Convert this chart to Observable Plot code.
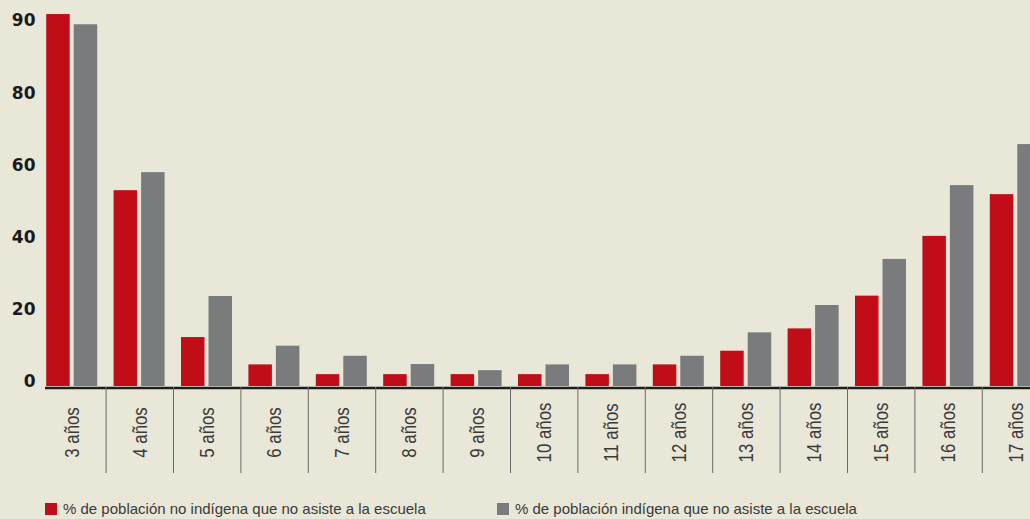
<!DOCTYPE html>
<html>
<head>
<meta charset="utf-8">
<script src="https://cdn.jsdelivr.net/npm/d3@7"></script>
<script src="https://cdn.jsdelivr.net/npm/@observablehq/plot@0.6"></script>
<style>
  html, body { margin: 0; padding: 0; background: #e9e7d8; overflow: hidden; }
  #wrap { position: relative; width: 1030px; height: 519px; }
  #legend { position: absolute; left: 0; top: 498px; width: 1030px; height: 21px;
    font-family: "Liberation Sans Narrow", "Liberation Sans", sans-serif; font-size: 15px; color: #3a3a3a; }
  .item { position: absolute; top: 0; display: flex; align-items: center; height: 21px; }
  .sw { width: 12px; height: 12px; margin-right: 6px; }
</style>
</head>
<body>
<div id="wrap">
  <div id="chart"></div>
  <div id="legend"></div>
</div>
<script>
const ages = [3, 4, 5, 6, 7, 8, 9, 10, 11, 12, 13, 14, 15, 16, 17];
const ageLabels = ["3 años", "4 años", "5 años", "6 años", "7 años", "8 años", "9 años", "10 años", "11 años", "12 años", "13 años", "14 años", "15 años", "16 años", "17 años"];
const noIndigena = [91.5, 54.4, 13.6, 6.0, 3.3, 3.3, 3.3, 3.3, 3.3, 6.0, 9.8, 16.0, 25.1, 41.7, 53.3];
const indigena = [90.1, 59.4, 25.0, 11.2, 8.4, 6.1, 4.4, 6.0, 6.0, 8.4, 14.9, 22.5, 35.3, 55.8, 67.2];
const seriesNames = ["% de población no indígena que no asiste a la escuela", "% de población indígena que no asiste a la escuela"];
const seriesColors = ["#c10d18", "#7a7b7d"];
const yTicks = [0, 20, 40, 60, 80, 90];

const dataRed = ages.map((a, i) => ({age: a, value: noIndigena[i]}));
const dataGray = ages.map((a, i) => ({age: a, value: indigena[i]}));
const boundaries = ages.slice(1).map(a => a - 0.5);
const labelOf = new Map(ages.map((a, i) => [a, ageLabels[i]]));

const chart = Plot.plot({
  width: 1030,
  height: 498,
  marginTop: 25,
  marginLeft: 38,
  marginRight: 0,
  marginBottom: 112,
  style: {background: "transparent", overflow: "visible"},
  x: {type: "linear", domain: [2.5, 17.5], range: [38.2, 1049.2], label: null},
  y: {type: "linear", domain: [0, 80, 90], range: [386, 98, 25], label: null},
  marks: [
    Plot.rectY(dataRed, {x1: d => d.age - 0.5, x2: d => d.age + 0.5, y1: 0, y2: "value", fill: seriesColors[0], insetLeft: 8, insetRight: 35.9}),
    Plot.rectY(dataGray, {x1: d => d.age - 0.5, x2: d => d.age + 0.5, y1: 0, y2: "value", fill: seriesColors[1], insetLeft: 35.5, insetRight: 8.4}),
    Plot.ruleY([0], {stroke: "#1e1e1e", strokeWidth: 2.5, dy: 1.5, insetLeft: 7}),
    Plot.axisY({ticks: yTicks, tickSize: 0, tickPadding: 3, dy: -5, tickFormat: d => String(d), label: null,
      fontFamily: "DejaVu Sans", fontWeight: "bold", fontSize: 17, fill: "#1a1a1a", style: {letterSpacing: "1.8px"}}),
    Plot.axisX({ticks: boundaries, tickSize: 86, stroke: "#6a6a6a", strokeWidth: 1, tickFormat: () => "", dy: 1, label: null}),
    Plot.axisX({ticks: ages, tickSize: 0, tickPadding: 46, tickRotate: -90, textAnchor: "middle", label: null,
      tickFormat: d => labelOf.get(d), fontFamily: "Liberation Sans, sans-serif",
      fontSize: 21, fill: "#3a3a3a"})
  ]
});
document.getElementById("chart").appendChild(chart);

// condense the age labels (the reference uses a narrow face)
const labelSet = new Set(ageLabels);
chart.querySelectorAll("text").forEach(t => {
  if (!labelSet.has(t.textContent)) return;
  const len = t.getComputedTextLength();
  if (len > 0) {
    t.setAttribute("textLength", (len * 0.8).toFixed(1));
    t.setAttribute("lengthAdjust", "spacingAndGlyphs");
  }
});

const legend = document.getElementById("legend");
const lefts = [45, 497];
seriesNames.forEach((name, i) => {
  const item = document.createElement("div");
  item.className = "item";
  item.style.left = lefts[i] + "px";
  const sw = document.createElement("span");
  sw.className = "sw";
  sw.style.background = seriesColors[i];
  const t = document.createElement("span");
  t.textContent = name;
  item.appendChild(sw);
  item.appendChild(t);
  legend.appendChild(item);
});
</script>
</body>
</html>
